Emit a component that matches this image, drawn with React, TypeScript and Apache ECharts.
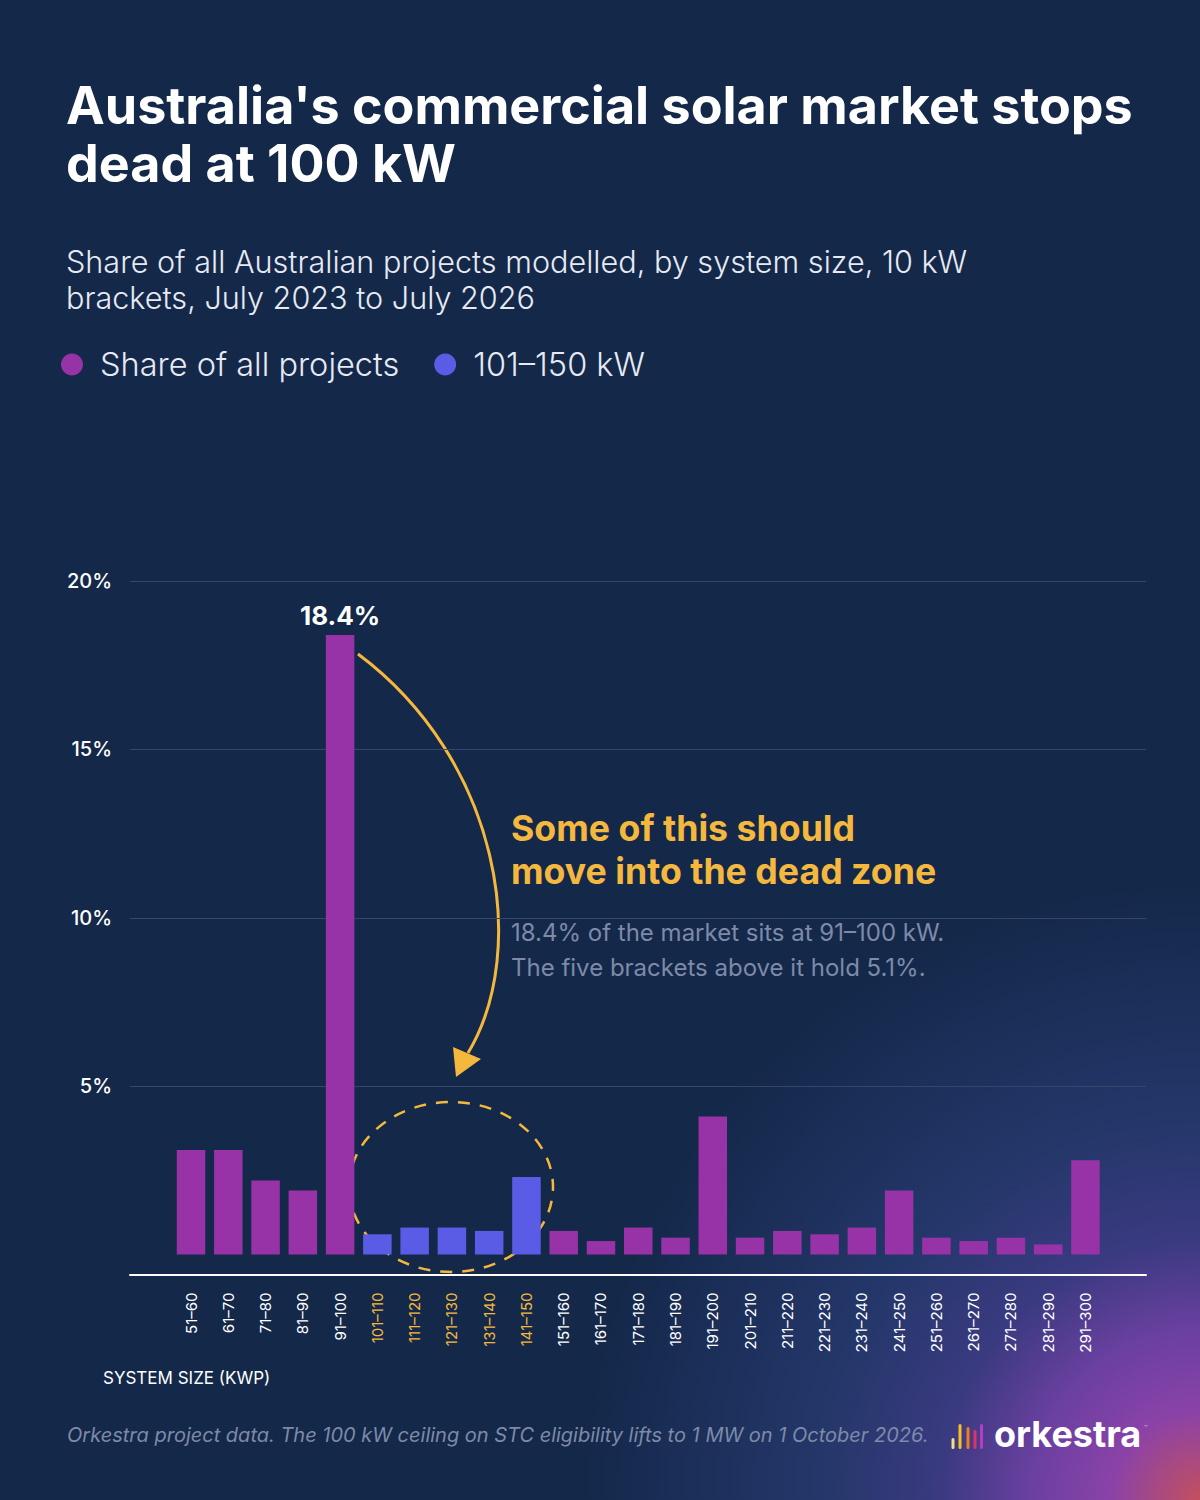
import { useEffect, useRef } from 'react';
import * as echarts from 'echarts';

// System size brackets (kWp)
const categories = [
  '51–60', '61–70', '71–80', '81–90', '91–100',
  '101–110', '111–120', '121–130', '131–140', '141–150',
  '151–160', '161–170', '171–180', '181–190', '191–200',
  '201–210', '211–220', '221–230', '231–240', '241–250',
  '251–260', '261–270', '271–280', '281–290', '291–300',
];

// Share of all projects, %
const shareValues = [
  3.1, 3.1, 2.2, 1.9, 18.4,
  0.6, 0.8, 0.8, 0.7, 2.3,
  0.7, 0.4, 0.8, 0.5, 4.1,
  0.5, 0.7, 0.6, 0.8, 1.9,
  0.5, 0.4, 0.5, 0.3, 2.8,
];

// the "dead zone" brackets just above the 100 kW ceiling
const deadZone = ['101–110', '111–120', '121–130', '131–140', '141–150'];

const yTicks = [0, 5, 10, 15, 20];

const BG = '#14284a';
const PURPLE = '#9733a6';
const BLUE = '#5b5ce6';
const ORANGE = '#f4b83e';
const GREY = '#7d8aa8';
const FONT = 'Inter, "Noto Sans", sans-serif';

export default function App() {
  const chartRef = useRef<HTMLDivElement>(null);

  useEffect(() => {
    document.body.style.margin = '0';
    if (!chartRef.current) return;
    const chart = echarts.init(chartRef.current, null, { renderer: 'svg' });

    const peak = Math.max(...shareValues);

    const allData = categories.map((c, i) => {
      if (deadZone.includes(c)) return '-';
      const v = shareValues[i];
      if (v === peak) {
        return {
          value: v,
          label: {
            show: true,
            position: 'top',
            distance: 6,
            formatter: '{c}%',
            color: '#ffffff',
            fontFamily: FONT,
            fontWeight: 700,
            fontSize: 26,
          },
        };
      }
      return v;
    });
    const zoneData = categories.map((c, i) => (deadZone.includes(c) ? shareValues[i] : '-'));

    const option = {
      animation: false,
      backgroundColor: 'transparent',
      textStyle: { fontFamily: FONT },
      title: [
        {
          text: "Australia's commercial solar market stops\ndead at 100 kW",
          left: 66,
          top: 76,
          padding: 0,
          textStyle: {
            color: '#ffffff',
            fontFamily: FONT,
            fontWeight: 700,
            fontSize: 52,
            lineHeight: 58,
          },
        },
        {
          text: 'Share of all Australian projects modelled, by system size, 10 kW\nbrackets, July 2023 to July 2026',
          left: 66,
          top: 243,
          padding: 0,
          textStyle: {
            color: '#e6eaf3',
            fontFamily: FONT,
            fontWeight: 300,
            fontSize: 30.6,
            lineHeight: 36,
          },
        },
      ],
      legend: {
        left: 61,
        top: 348,
        padding: 0,
        icon: 'circle',
        itemWidth: 22,
        itemHeight: 22,
        itemGap: 35,
        selectedMode: false,
        data: ['Share of all projects', '101–150 kW'],
        textStyle: {
          color: '#e6eaf3',
          fontFamily: FONT,
          fontWeight: 300,
          fontSize: 32.5,
          padding: [0, 0, 0, 12],
        },
      },
      grid: [
        { left: 130, right: 54, top: 581, bottom: 245.5 },
        { left: 172.4, right: 95.9, top: 581, bottom: 245.5 },
      ],
      xAxis: [
        {
          gridIndex: 0,
          type: 'value',
          min: 0,
          max: 1,
          offset: 20,
          axisLine: { show: true, onZero: false, lineStyle: { color: '#ffffff', width: 2 } },
          axisTick: { show: false },
          axisLabel: { show: false },
          splitLine: { show: false },
        },
        {
          gridIndex: 1,
          type: 'category',
          data: categories,
          offset: 20,
          axisLine: { show: false, onZero: false },
          axisTick: { show: false },
          axisLabel: {
            rotate: 90,
            interval: 0,
            margin: 18,
            fontFamily: FONT,
            fontSize: 15,
            color: (value: string) => (deadZone.includes(value) ? ORANGE : '#ffffff'),
          },
        },
      ],
      yAxis: [
        {
          gridIndex: 0,
          type: 'value',
          min: yTicks[0],
          max: yTicks[yTicks.length - 1],
          interval: 5,
          axisLine: { show: false },
          axisTick: { show: false },
          axisLabel: {
            showMinLabel: false,
            formatter: '{value}%',
            margin: 18,
            color: '#ffffff',
            fontFamily: FONT,
            fontWeight: 500,
            fontSize: 20,
          },
          splitLine: { show: true, showMinLine: false, lineStyle: { color: '#34466a', width: 1 } },
        },
        {
          gridIndex: 1,
          type: 'value',
          min: yTicks[0],
          max: yTicks[yTicks.length - 1],
          show: false,
          splitLine: { show: false },
        },
      ],
      series: [
        {
          name: 'Share of all projects',
          type: 'bar',
          xAxisIndex: 1,
          yAxisIndex: 1,
          barWidth: 28.5,
          barGap: '-100%',
          itemStyle: { color: PURPLE },
          data: allData,
        },
        {
          name: '101–150 kW',
          type: 'bar',
          xAxisIndex: 1,
          yAxisIndex: 1,
          barWidth: 28.5,
          barGap: '-100%',
          itemStyle: { color: BLUE },
          data: zoneData,
        },
      ],
      graphic: [
        // curved arrow from the peak bar down to the dead zone
        {
          type: 'bezierCurve',
          shape: { x1: 358, y1: 654, cpx1: 500, cpy1: 760, cpx2: 530, cpy2: 950, x2: 468, y2: 1053 },
          style: { stroke: ORANGE, lineWidth: 3, fill: null },
        },
        {
          type: 'polygon',
          shape: { points: [[456, 1077], [453, 1047], [481, 1059]] },
          style: { fill: ORANGE },
        },
        // dashed ring round the dead zone
        {
          type: 'ellipse',
          shape: { cx: 451, cy: 1187, rx: 102, ry: 85 },
          style: { stroke: ORANGE, lineWidth: 2.5, fill: null, lineDash: [12, 10] },
        },
        {
          type: 'text',
          left: 511,
          top: 806,
          style: {
            text: 'Some of this should\nmove into the dead zone',
            fill: ORANGE,
            font: `700 35.7px ${FONT}`,
            lineHeight: 43,
          },
        },
        {
          type: 'text',
          left: 511,
          top: 915,
          style: {
            text: '18.4% of the market sits at 91–100 kW.\nThe five brackets above it hold 5.1%.',
            fill: GREY,
            font: `400 24px ${FONT}`,
            lineHeight: 35,
          },
        },
        {
          type: 'text',
          left: 103,
          top: 1369,
          style: {
            text: 'SYSTEM SIZE (KWP)',
            fill: '#ffffff',
            font: `400 17px ${FONT}`,
          },
        },
        {
          type: 'text',
          left: 67,
          top: 1425,
          style: {
            text: 'Orkestra project data. The 100 kW ceiling on STC eligibility lifts to 1 MW on 1 October 2026.',
            fill: GREY,
            font: `italic 400 20px ${FONT}`,
          },
        },
        // orkestra logo
        { type: 'rect', shape: { x: 951.5, y: 1438, width: 3, height: 11, r: 1.5 }, style: { fill: '#f8df86' } },
        { type: 'rect', shape: { x: 958.5, y: 1424, width: 3, height: 25, r: 1.5 }, style: { fill: '#f5c21e' } },
        { type: 'rect', shape: { x: 966.5, y: 1427, width: 3, height: 22, r: 1.5 }, style: { fill: '#ee7d1c' } },
        { type: 'rect', shape: { x: 973.5, y: 1430, width: 3, height: 19, r: 1.5 }, style: { fill: '#df3368' } },
        { type: 'rect', shape: { x: 980, y: 1424, width: 3, height: 25, r: 1.5 }, style: { fill: '#b23fbe' } },
        {
          type: 'text',
          left: 994,
          top: 1416,
          style: { text: 'orkestra', fill: '#ffffff', font: `700 36px ${FONT}` },
        },
        {
          type: 'text',
          left: 1144,
          top: 1424,
          style: { text: '™', fill: '#c9c3dd', font: `400 6px ${FONT}` },
        },
      ],
    };

    chart.setOption(option);

    return () => {
      chart.dispose();
    };
  }, []);

  return (
    <div
      style={{
        width: 1200,
        height: 1500,
        background: `radial-gradient(circle 620px at 100% 100%, #c4505e 0px, #8a42a8 90px, #6a40a0 170px, #3a3a80 260px, #24376a 380px, rgba(20,40,74,0) 620px), ${BG}`,
      }}
    >
      <div ref={chartRef} style={{ width: 1200, height: 1500 }} />
    </div>
  );
}
